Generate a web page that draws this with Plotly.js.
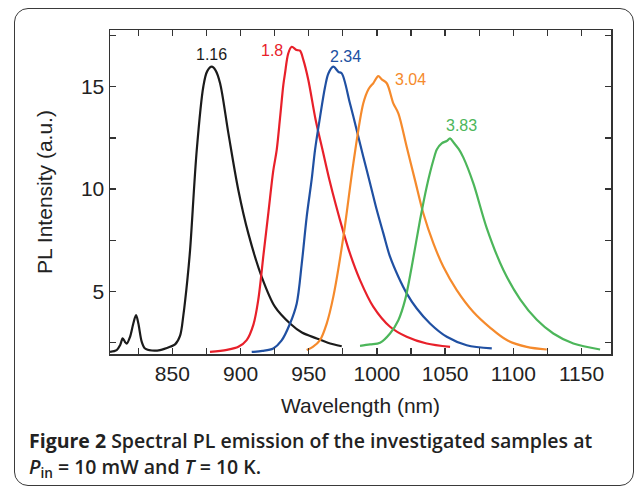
<!DOCTYPE html>
<html><head><meta charset="utf-8">
<script src="https://cdn.plot.ly/plotly-3.0.1.min.js"></script>
<style>
html,body{margin:0;padding:0;background:#fff;}
#frame{position:absolute;left:14px;top:8px;width:620px;height:478px;border:1.5px solid #3a3a3a;border-radius:14px;box-sizing:border-box;}
#chart{position:absolute;left:0;top:0;width:635px;height:488px;}
</style></head><body>
<div id="frame"></div>
<div id="chart"></div>
<script>
// ---- data (wavelength in nm, PL intensity in a.u.) ----
const sampleLabels = ["1.16", "1.8", "2.34", "3.04", "3.83"];
const sampleColors = ["#1b1b1b", "#e8202a", "#2050a2", "#f58a2c", "#4cb65a"];

const blackX = [804.3, 809.2, 811.7, 813.6, 815.3, 816.6, 819.0, 821.4, 823.4, 825.1, 827.6, 830.0, 835, 841, 848.3, 852, 855.7, 858.1, 861.0, 863.0, 867.9, 872.7, 875.5, 878.9, 881.7, 885.0, 891.1, 898.4, 905.7, 915.5, 925.3, 936.3, 945, 955.9, 964, 974.2];
const blackY = [2.05, 2.14, 2.38, 2.71, 2.54, 2.46, 2.79, 3.44, 3.85, 3.44, 2.54, 2.22, 2.12, 2.14, 2.30, 2.42, 2.85, 3.85, 5.56, 7.02, 11.91, 15.0, 15.75, 15.98, 15.8, 15.17, 12.72, 9.95, 7.84, 5.72, 4.25, 3.44, 3.0, 2.71, 2.5, 2.33];

const redX = [877.6, 890, 898.4, 904.5, 909.5, 913, 917, 920.5, 924, 926.5, 929, 931.4, 932.6, 935, 937.5, 941.2, 943.6, 946.1, 949.7, 955, 960, 965, 970, 975, 980.2, 987.6, 997.4, 1009.6, 1021.8, 1036.5, 1053.6];
const redY = [2.05, 2.15, 2.30, 2.63, 3.4, 4.6, 6.9, 8.9, 10.9, 11.9, 13.5, 15.1, 15.65, 16.63, 16.95, 16.79, 16.76, 16.3, 15.33, 13.4, 11.95, 10.5, 9.2, 8.0, 6.86, 5.56, 4.25, 3.28, 2.79, 2.46, 2.30];

const blueX = [908.2, 916, 924.0, 930, 936.3, 941.2, 944.9, 948.5, 952.2, 954.6, 958.3, 962.0, 964.4, 968.0, 971.7, 974.2, 980.2, 985.2, 990.0, 995.0, 999.9, 1004.7, 1009.6, 1015.7, 1021.8, 1029.2, 1038.9, 1051.2, 1065.8, 1084.2];
const blueY = [2.05, 2.10, 2.22, 2.6, 3.44, 4.42, 6.37, 8.65, 10.5, 11.91, 13.53, 15.0, 15.65, 15.98, 15.73, 15.65, 14.19, 12.88, 11.58, 10.28, 8.98, 7.84, 6.70, 5.72, 4.91, 4.17, 3.44, 2.79, 2.38, 2.22];

const orangeX = [948.5, 953, 958.3, 963, 968.0, 975.4, 982.7, 990.0, 994, 997.4, 1001.0, 1003.5, 1007.2, 1012.0, 1015.7, 1021.8, 1027.9, 1034.0, 1041.4, 1048.7, 1058.5, 1070.7, 1082.9, 1095.2, 1109.8, 1124.5];
const orangeY = [2.14, 2.3, 2.63, 3.4, 4.74, 7.67, 11.26, 14.19, 14.9, 15.18, 15.52, 15.36, 15.17, 14.19, 13.70, 12.07, 10.44, 8.82, 7.35, 6.21, 5.07, 4.0, 3.24, 2.63, 2.30, 2.17];

const greenX = [987.6, 995, 1002.3, 1009.6, 1015.7, 1020.6, 1025.5, 1031.6, 1036.5, 1041.4, 1044, 1047.5, 1051.2, 1053.6, 1056.5, 1060, 1063.3, 1070.7, 1080.5, 1092.7, 1105.0, 1117.2, 1129.3, 1144.0, 1163.6];
const greenY = [2.35, 2.42, 2.5, 2.95, 3.6, 4.58, 6.21, 8.49, 10.12, 11.42, 11.95, 12.24, 12.35, 12.48, 12.25, 11.95, 11.55, 10.28, 8.1, 6.05, 4.62, 3.62, 2.95, 2.46, 2.17];

// label anchor points (data coords)
const labelX = [878.9, 922.9, 976.6, 1024.3, 1062.2];
const labelY = [16.55, 16.76, 16.5, 15.36, 13.13];

const xTicks = [850, 900, 950, 1000, 1050, 1100, 1150];
const xMinor = [825, 875, 925, 975, 1025, 1075, 1125];
const yTicks = [5, 10, 15];
const yMinor = [2.5, 7.5, 12.5, 17.5];

const seriesX = [blackX, redX, blueX, orangeX, greenX];
const seriesY = [blackY, redY, blueY, orangeY, greenY];

const traces = seriesX.map((xs, i) => ({
  x: xs, y: seriesY[i], type: 'scatter', mode: 'lines', name: sampleLabels[i],
  line: {color: sampleColors[i], width: 2.2, shape: 'spline', smoothing: 0.9},
  hoverinfo: 'skip'
}));

const sans = 'Liberation Sans, Arial, sans-serif';
const tickFont = {family: sans, size: 21, color: '#222'};
const axisCommon = {
  showgrid: false, zeroline: false, showline: true, linecolor: '#333', linewidth: 1.5,
  mirror: 'ticks', ticks: 'inside', ticklen: 6, tickwidth: 1.3, tickcolor: '#333',
  tickfont: tickFont
};

const annotations = sampleLabels.map((t, i) => ({
  x: labelX[i], y: labelY[i], xref: 'x', yref: 'y', text: t, showarrow: false,
  font: {family: sans, size: 16, color: sampleColors[i]},
  xanchor: 'center', yanchor: 'middle'
}));

const capFont = {family: 'Open Sans, sans-serif', size: 19.5, color: '#222', weight: 600};
annotations.push({
  xref: 'paper', yref: 'paper', x: -0.1657, y: -0.2685, xanchor: 'left', yanchor: 'middle',
  showarrow: false, align: 'left', font: capFont,
  text: '<b>Figure 2</b> Spectral PL emission of the investigated samples at'
});
annotations.push({
  xref: 'paper', yref: 'paper', x: -0.1657, y: -0.349, xanchor: 'left', yanchor: 'middle',
  showarrow: false, align: 'left', font: capFont,
  text: '<i>P</i><sub>in</sub> = 10 mW and <i>T</i> = 10 K.'
});

const layout = {
  width: 635, height: 488,
  margin: {l: 110, r: 24, t: 30, b: 134},
  paper_bgcolor: 'rgba(0,0,0,0)', plot_bgcolor: 'rgba(0,0,0,0)',
  showlegend: false,
  xaxis: Object.assign({}, axisCommon, {
    range: [804.3, 1171.6], tickmode: 'array', tickvals: xTicks,
    minor: {tickmode: 'array', tickvals: xMinor, ticks: 'inside', ticklen: 6, tickwidth: 1.3, tickcolor: '#333'},
    title: {text: 'Wavelength (nm)', standoff: 14, font: {family: sans, size: 21, color: '#222'}}
  }),
  yaxis: Object.assign({}, axisCommon, {
    range: [1.95, 17.77], tickmode: 'array', tickvals: yTicks,
    minor: {tickmode: 'array', tickvals: yMinor, ticks: 'inside', ticklen: 6, tickwidth: 1.3, tickcolor: '#333'},
    title: {text: 'PL Intensity (a.u.)', standoff: 22, font: {family: sans, size: 21, color: '#222'}}
  }),
  annotations: annotations
};

Plotly.newPlot('chart', traces, layout, {displayModeBar: false, staticPlot: true});
</script>
</body></html>
